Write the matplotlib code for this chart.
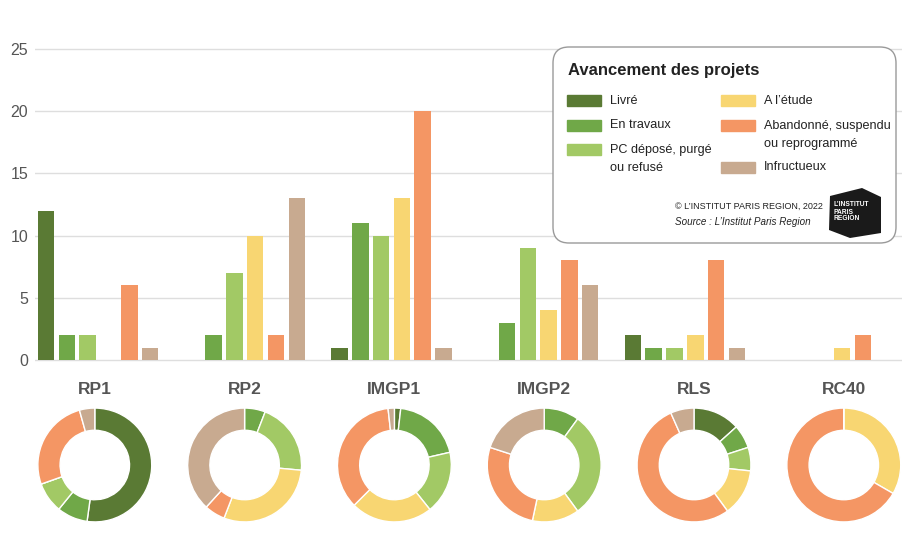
import matplotlib.pyplot as plt
import numpy as np
from matplotlib.patches import FancyBboxPatch, Polygon

# --- data ---
programmes = ['RP1', 'RP2', 'IMGP1', 'IMGP2', 'RLS', 'RC40']
statuts = ['Livré', 'En travaux', 'PC déposé, purgé\nou refusé',
           'A l’étude', 'Abandonné, suspendu\nou reprogrammé', 'Infructueux']
livre = [12, 0, 1, 0, 2, 0]
en_travaux = [2, 2, 11, 3, 1, 0]
pc_depose = [2, 7, 10, 9, 1, 0]
a_letude = [0, 10, 13, 4, 2, 1]
abandonne = [6, 2, 20, 8, 8, 2]
infructueux = [1, 13, 1, 6, 1, 0]
yticks = [0, 5, 10, 15, 20, 25]

series = [livre, en_travaux, pc_depose, a_letude, abandonne, infructueux]
couleurs = ['#5a7a34', '#70a848', '#a2c965', '#f8d672', '#f49664', '#c8aa90']

W, H = 913, 556
police = ['Liberation Sans', 'DejaVu Sans']
gris = '#555555'
noir = '#222222'

fig = plt.figure(figsize=(W / 100, H / 100), dpi=100)

# --- bar chart ---
px_unit = (360 - 49) / 25
y0, y1 = -0.25, 25.25
top_px = 360 - y1 * px_unit
bot_px = 360 - y0 * px_unit
ax = fig.add_axes([35 / W, 1 - bot_px / H, (902 - 35) / W, (bot_px - top_px) / H])
x = np.arange(len(programmes))
pas, larg = 0.1418, 0.1125
for j, vals in enumerate(series):
    ax.bar(x + (j - 2.5) * pas, vals, width=larg, color=couleurs[j], zorder=2)
ax.set_xlim(-0.430, 5.48)
ax.set_ylim(y0, y1)
ax.set_yticks(yticks)
ax.set_xticks([])
ax.yaxis.grid(True, color='#dedede', lw=1)
ax.set_axisbelow(True)
for s in ax.spines.values():
    s.set_visible(False)
ax.tick_params(axis='y', length=0, pad=5, labelsize=11.5, labelcolor=gris)
for t in ax.get_yticklabels():
    t.set_family(police)

# --- donuts ---
R = 57.5
cy = 465
for i, nom in enumerate(programmes):
    cx = 94.8 + 149.8 * i
    dax = fig.add_axes([(cx - R) / W, (H - cy - R) / H, 2 * R / W, 2 * R / H])
    vals = [s[i] for s in series]
    dax.pie(vals, colors=couleurs, startangle=90, counterclock=False,
            wedgeprops=dict(width=0.39, edgecolor='white', linewidth=1))
    dax.set_xlim(-1.01, 1.01)
    dax.set_ylim(-1.01, 1.01)
    dax.set_aspect('equal')
    fig.text(cx / W, 1 - 390 / H, nom, ha='center', va='center', fontsize=12.5,
             fontweight='bold', color=gris, family=police)

# --- legend box (drawn in pixel coords) ---
lax = fig.add_axes([0, 0, 1, 1], zorder=5)
lax.set_xlim(0, W)
lax.set_ylim(H, 0)
lax.axis('off')
lax.add_patch(FancyBboxPatch((553, 47), 343, 196,
                             boxstyle='round,pad=0,rounding_size=16',
                             fc='white', ec='#9a9a9a', lw=1))
lax.text(568, 70, 'Avancement des projets', fontsize=12, fontweight='bold',
         va='center', color=noir, family=police)

rows = [100.5, 125.5, 149.5, 100.5, 125.5, 167.5]
for j, lab in enumerate(statuts):
    sx = 567 if j < 3 else 721
    yy = rows[j]
    lax.add_patch(plt.Rectangle((sx, yy - 5.5), 34, 11, color=couleurs[j]))
    for k, ligne in enumerate(lab.split('\n')):
        lax.text(sx + 43, yy + k * 18.5, ligne, fontsize=9.1, va='center',
                 color=noir, family=police)

lax.text(675, 206, '© L’INSTITUT PARIS REGION, 2022', fontsize=6.5,
         va='center', color=noir, family=police)
lax.text(675, 222, 'Source : L’Institut Paris Region', fontsize=7.1,
         va='center', style='italic', color=noir, family=police)

# logo
lax.add_patch(Polygon([(830, 196), (862, 188), (881, 197), (881, 233),
                       (850, 238), (829, 230)], closed=True, fc='#1a1a1a'))
for k, mot in enumerate(['L’INSTITUT', 'PARIS', 'REGION']):
    lax.text(834, 205 + k * 7, mot, fontsize=4.8, fontweight='bold',
             color='white', va='center', family=police)

plt.savefig('out.png', dpi=100, facecolor='white')
